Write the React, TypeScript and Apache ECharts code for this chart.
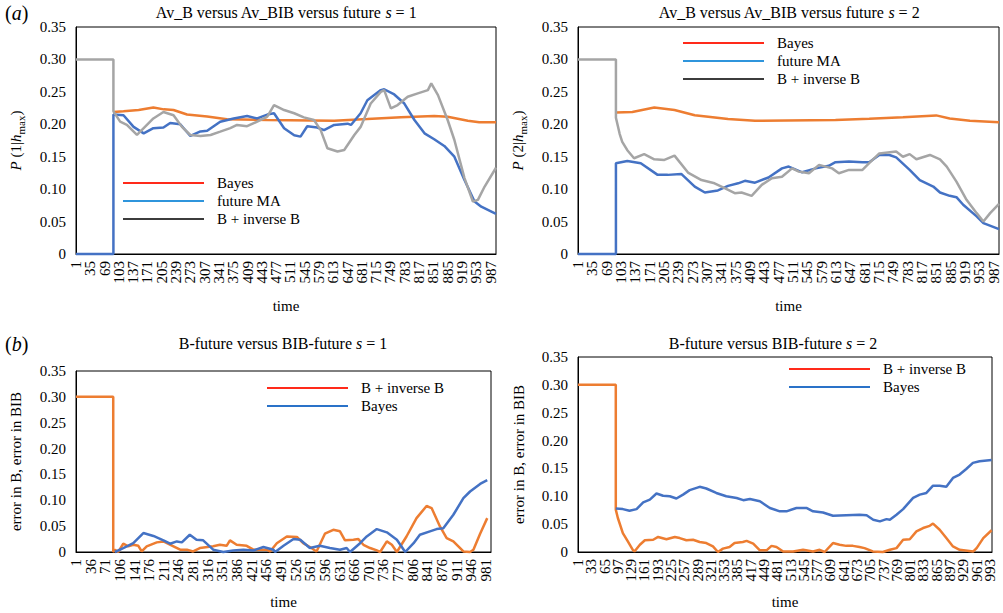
import React, { useEffect, useRef } from 'react';
import * as echarts from 'echarts';

const FONT = '"Liberation Serif", "Times New Roman", serif';
const ORANGE = '#ED7D31';
const BLUE = '#4472C4';
const GRAY = '#A5A5A5';

// time categories (tick labels) per panel
const makeTimes = (n: number) => Array.from({ length: n }, (_, i) => String(i + 1));
const A_TIMES = makeTimes(1000);
const B1_TIMES = makeTimes(993);
const B2_TIMES = makeTimes(998);
const A_LABEL_STEP = 34;
const B1_LABEL_STEP = 35;
const B2_LABEL_STEP = 32;
const Y_TICKS = [0, 0.05, 0.1, 0.15, 0.2, 0.25, 0.3, 0.35];

// panel (a), s = 1 : [time, P]
const A1_BAYES = [[90,0.219],[114,0.220],[150,0.222],[185,0.226],[210,0.223],[233,0.222],[265,0.215],[313,0.212],[360,0.2076],[456,0.2066],[615,0.2055],[694,0.208],[774,0.2107],[853,0.2127],[885,0.2117],[933,0.2055],[960,0.203],[1000,0.203]];
const A1_FUTURE = [[1,0],[90,0],[90,0.215],[114,0.214],[138,0.196],[162,0.186],[185,0.194],[209,0.195],[225,0.202],[249,0.2],[273,0.182],[297,0.189],[313,0.19],[344,0.204],[376,0.209],[408,0.2127],[432,0.209],[456,0.215],[472,0.217],[496,0.194],[520,0.183],[535,0.181],[551,0.197],[575,0.195],[591,0.191],[615,0.199],[647,0.201],[655,0.199],[678,0.217],[694,0.237],[726,0.2527],[734,0.254],[758,0.246],[782,0.232],[806,0.2066],[830,0.186],[853,0.177],[877,0.1666],[901,0.150],[925,0.114],[949,0.081],[965,0.073],[1000,0.062]];
const A1_BIB = [[1,0.30],[90,0.30],[90,0.22],[106,0.204],[122,0.199],[146,0.1835],[162,0.194],[185,0.209],[209,0.219],[233,0.214],[253,0.196],[273,0.1835],[297,0.182],[321,0.1835],[344,0.1886],[368,0.194],[384,0.199],[408,0.197],[432,0.204],[456,0.2117],[472,0.2296],[496,0.222],[520,0.217],[543,0.2107],[567,0.2066],[583,0.191],[599,0.163],[623,0.158],[639,0.1604],[663,0.1835],[678,0.196],[702,0.232],[726,0.250],[734,0.2527],[750,0.2245],[766,0.2296],[790,0.2424],[814,0.2476],[838,0.2527],[846,0.263],[862,0.245],[885,0.2066],[901,0.1758],[925,0.117],[945,0.081],[957,0.0835],[973,0.104],[1000,0.133]];

// panel (a), s = 2
const A2_BAYES = [[91,0.218],[130,0.219],[182,0.226],[230,0.222],[278,0.214],[310,0.2117],[357,0.208],[421,0.2055],[612,0.2066],[692,0.2086],[772,0.2107],[851,0.2137],[883,0.209],[931,0.2055],[1000,0.203]];
const A2_FUTURE = [[1,0],[91,0],[91,0.140],[118,0.1435],[150,0.14],[190,0.122],[214,0.122],[246,0.1235],[278,0.104],[302,0.0948],[333,0.098],[357,0.105],[381,0.109],[397,0.1128],[421,0.110],[453,0.118],[485,0.132],[501,0.1348],[533,0.126],[565,0.132],[596,0.136],[612,0.1415],[644,0.1425],[676,0.1415],[692,0.1415],[716,0.1527],[740,0.1527],[756,0.149],[788,0.1297],[812,0.114],[844,0.104],[860,0.0948],[883,0.0897],[899,0.0876],[915,0.0759],[947,0.058],[963,0.0477],[1000,0.0384]];
const A2_BIB = [[1,0.30],[91,0.30],[91,0.21],[100,0.185],[106,0.173],[118,0.160],[134,0.1476],[158,0.154],[182,0.146],[206,0.145],[230,0.1517],[262,0.1256],[294,0.114],[325,0.109],[349,0.1015],[373,0.0938],[389,0.0948],[413,0.0897],[437,0.1066],[461,0.1169],[485,0.119],[509,0.132],[525,0.127],[549,0.1245],[573,0.1374],[604,0.132],[620,0.1245],[644,0.1297],[676,0.1297],[692,0.140],[716,0.155],[756,0.158],[772,0.150],[788,0.154],[804,0.146],[836,0.1527],[860,0.146],[876,0.1348],[899,0.1117],[923,0.0835],[947,0.063],[963,0.050],[979,0.063],[1000,0.0774]];

// panel (b), s = 1 : [time, error]
const B1_BIB = [[1,0.30],[90,0.30],[90,0],[94,0.0045],[102,0],[114,0.016],[126,0.011],[138,0.014],[150,0.012],[158,0.001],[170,0.011],[194,0.0186],[210,0.0205],[234,0.011],[250,0.0045],[266,0.0045],[281,0.001],[297,0.0077],[329,0.011],[345,0.014],[361,0.012],[369,0.0225],[385,0.014],[409,0.012],[425,0.0045],[457,0.0045],[465,0.001],[481,0.017],[505,0.030],[529,0.029],[544,0.017],[560,0.0096],[576,0.001],[596,0.0353],[616,0.043],[632,0.040],[644,0.0225],[664,0.0238],[676,0.025],[688,0.014],[704,0.0077],[720,0.003],[728,0],[744,0.0205],[756,0.014],[768,0],[791,0.030],[815,0.0655],[839,0.089],[851,0.085],[871,0.0495],[887,0.027],[903,0.0205],[927,0.001],[943,0],[951,0.0045],[967,0.0353],[984,0.0655]];
const B1_BAYES = [[94,0],[114,0.0077],[138,0.017],[162,0.0366],[186,0.031],[210,0.0225],[226,0.016],[242,0.0205],[254,0.0186],[273,0.0334],[289,0.0238],[305,0.0225],[329,0.0045],[353,0],[377,0.003],[401,0.0045],[425,0.003],[449,0.0096],[473,0.0045],[477,0],[497,0.012],[521,0.025],[537,0.0238],[560,0.0077],[584,0.012],[608,0.0077],[632,0.0045],[648,0.0077],[656,0],[680,0.017],[696,0.030],[720,0.0443],[744,0.038],[768,0.0238],[788,0],[808,0.017],[823,0.0334],[847,0.040],[863,0.0443],[879,0.046],[903,0.072],[927,0.104],[943,0.117],[967,0.1317],[984,0.139]];

// panel (b), s = 2
const B2_BIB = [[1,0.30],[92,0.30],[92,0.076],[97,0.061],[109,0.034],[121,0.019],[133,0.004],[137,0.001],[150,0.013],[162,0.021],[182,0.022],[194,0.027],[214,0.023],[234,0.027],[246,0.025],[262,0.021],[278,0.022],[294,0.018],[310,0.016],[326,0.010],[338,0],[350,0.006],[366,0.009],[378,0.016],[398,0.018],[407,0.020],[423,0.015],[439,0.003],[455,0.003],[467,0.011],[479,0.009],[495,0.001],[519,0.001],[543,0.004],[567,0.001],[583,0.004],[595,0],[615,0.016],[631,0.013],[647,0.011],[663,0.011],[679,0.009],[691,0.007],[711,0.001],[735,0],[752,0.004],[768,0.007],[784,0.022],[800,0.023],[816,0.037],[832,0.043],[848,0.047],[856,0.051],[872,0.040],[888,0.025],[904,0.010],[920,0.004],[953,0.001],[961,0.007],[977,0.025],[997,0.039]];
const B2_BAYES = [[92,0.078],[109,0.077],[125,0.074],[142,0.077],[158,0.089],[174,0.094],[190,0.105],[206,0.101],[222,0.100],[238,0.096],[254,0.103],[270,0.111],[294,0.117],[310,0.114],[334,0.106],[358,0.100],[383,0.097],[399,0.093],[415,0.095],[439,0.091],[463,0.079],[487,0.073],[503,0.073],[527,0.079],[551,0.079],[567,0.073],[591,0.071],[615,0.065],[647,0.066],[679,0.067],[696,0.066],[712,0.058],[728,0.055],[744,0.059],[752,0.058],[768,0.067],[784,0.077],[808,0.097],[824,0.103],[840,0.106],[856,0.119],[872,0.119],[888,0.117],[904,0.133],[920,0.139],[936,0.149],[952,0.160],[968,0.163],[997,0.165]];

const toData = (pts: number[][]) => pts.map(([t, v]) => [String(t), v]);

const GRIDS = [
  { left: 76, top: 27, width: 420, height: 227 },
  { left: 578, top: 27, width: 421, height: 227 },
  { left: 76, top: 371, width: 415, height: 181 },
  { left: 578, top: 357, width: 414, height: 195 },
];

function buildOption() {
  const times = [A_TIMES, A_TIMES, B1_TIMES, B2_TIMES];
  const steps = [A_LABEL_STEP, A_LABEL_STEP, B1_LABEL_STEP, B2_LABEL_STEP];
  const yNames = [
    '{i|P} (1|{i|h}{sub|max})',
    '{i|P} (2|{i|h}{sub|max})',
    'error in B, error in BIB',
    'error in B, error in BIB',
  ];
  const nameGapsX = [44, 44, 42, 42];
  const nameGapsY = [50, 50, 50, 49];

  const grid = GRIDS.map((g) => ({ ...g, show: true, borderColor: '#000', borderWidth: 1, backgroundColor: 'transparent' }));

  const xAxis = times.map((cats, i) => ({
    type: 'category',
    gridIndex: i,
    data: cats,
    boundaryGap: false,
    name: 'time',
    nameLocation: 'middle',
    nameGap: nameGapsX[i],
    nameTextStyle: { fontFamily: FONT, fontSize: 15, color: '#000' },
    axisLine: { show: true, lineStyle: { color: '#000', width: 1 } },
    axisTick: { show: false },
    axisLabel: {
      interval: 0,
      formatter: (value: string, index: number) => (index % steps[i] === 0 ? value : ''),
      rotate: 90,
      fontFamily: FONT,
      fontSize: 15,
      color: '#000',
      margin: 7,
    },
    splitLine: { show: false },
  }));

  const yAxis = times.map((_, i) => ({
    type: 'value',
    gridIndex: i,
    min: Y_TICKS[0],
    max: Y_TICKS[Y_TICKS.length - 1],
    interval: 0.05,
    name: yNames[i],
    nameLocation: 'middle',
    nameRotate: 90,
    nameGap: nameGapsY[i],
    nameTextStyle: {
      fontFamily: FONT,
      fontSize: 15,
      color: '#000',
      lineHeight: 20,
      rich: {
        i: { fontFamily: FONT, fontSize: 15, fontStyle: 'italic', color: '#000', lineHeight: 20 },
        sub: { fontFamily: FONT, fontSize: 11, color: '#000', lineHeight: 6, verticalAlign: 'bottom' },
      },
    },
    axisLine: { show: true, lineStyle: { color: '#000', width: 1 } },
    axisTick: { show: false },
    splitLine: { show: false },
    axisLabel: {
      fontFamily: FONT,
      fontSize: 15,
      color: '#000',
      margin: 10,
      formatter: (v: number) => (v === 0 ? '0' : v.toFixed(2)),
    },
  }));

  const line = (name: string, data: number[][], color: string, idx: number) => ({
    type: 'line',
    name,
    xAxisIndex: idx,
    yAxisIndex: idx,
    data: toData(data),
    symbol: 'none',
    showSymbol: false,
    clip: false,
    lineStyle: { color, width: 2.5 },
    itemStyle: { color },
  });

  const series = [
    line('Bayes', A1_BAYES, ORANGE, 0),
    line('future MA', A1_FUTURE, BLUE, 0),
    line('B + inverse B', A1_BIB, GRAY, 0),
    line('Bayes', A2_BAYES, ORANGE, 1),
    line('future MA', A2_FUTURE, BLUE, 1),
    line('B + inverse B', A2_BIB, GRAY, 1),
    line('B + inverse B', B1_BIB, ORANGE, 2),
    line('Bayes', B1_BAYES, BLUE, 2),
    line('B + inverse B', B2_BIB, ORANGE, 3),
    line('Bayes', B2_BAYES, BLUE, 3),
  ];

  const legendBase = {
    orient: 'vertical',
    icon: 'rect',
    itemWidth: 81,
    itemHeight: 2,
    itemGap: 2,
    padding: 0,
    selectedMode: false,
    textStyle: { fontFamily: FONT, fontSize: 15, color: '#000', lineHeight: 16, padding: [0, 0, 0, 8] },
  };
  const legend = [
    {
      ...legendBase,
      left: 123,
      top: 175,
      data: [
        { name: 'Bayes', itemStyle: { color: '#FF2A1A' } },
        { name: 'future MA', itemStyle: { color: '#2F95DC' } },
        { name: 'B + inverse B', itemStyle: { color: '#3C3C3C' } },
      ],
    },
    {
      ...legendBase,
      left: 683,
      top: 35,
      data: [
        { name: 'Bayes', itemStyle: { color: '#FF2A1A' } },
        { name: 'future MA', itemStyle: { color: '#2F95DC' } },
        { name: 'B + inverse B', itemStyle: { color: '#3C3C3C' } },
      ],
    },
    {
      ...legendBase,
      left: 267,
      top: 380,
      data: [
        { name: 'B + inverse B', itemStyle: { color: '#FF2A1A' } },
        { name: 'Bayes', itemStyle: { color: '#2A72C8' } },
      ],
    },
    {
      ...legendBase,
      left: 789,
      top: 361,
      data: [
        { name: 'B + inverse B', itemStyle: { color: '#FF2A1A' } },
        { name: 'Bayes', itemStyle: { color: '#2A72C8' } },
      ],
    },
  ];

  const TITLE_SIZE = 16;
  const richTitle = {
    i: { fontFamily: FONT, fontSize: TITLE_SIZE, fontStyle: 'italic', fill: '#000' },
  };
  const titleText = (x: number, y: number, text: string) => ({
    type: 'text',
    x,
    y,
    style: {
      text,
      fontFamily: FONT,
      fontSize: TITLE_SIZE,
      fill: '#000',
      align: 'center',
      verticalAlign: 'middle',
      rich: richTitle,
    },
  });
  const panelLabel = (x: number, y: number, text: string) => ({
    type: 'text',
    x,
    y,
    style: {
      text,
      fontFamily: FONT,
      fontSize: 20,
      fill: '#000',
      align: 'left',
      verticalAlign: 'middle',
      rich: { i: { fontFamily: FONT, fontSize: 20, fontStyle: 'italic', fill: '#000' } },
    },
  });

  const graphic = [
    titleText(286, 12, 'Av_B versus Av_BIB versus future {i|s} = 1'),
    titleText(789, 12, 'Av_B versus Av_BIB versus future {i|s} = 2'),
    titleText(283, 343, 'B-future versus BIB-future {i|s} = 1'),
    titleText(773, 343, 'B-future versus BIB-future {i|s} = 2'),
    panelLabel(5, 13, '({i|a})'),
    panelLabel(5, 344, '({i|b})'),
  ];

  return {
    animation: false,
    backgroundColor: '#fff',
    grid,
    xAxis,
    yAxis,
    series,
    legend,
    graphic,
  };
}

export default function App() {
  const ref = useRef<HTMLDivElement>(null);
  useEffect(() => {
    if (!ref.current) return;
    const chart = echarts.init(ref.current, undefined, { renderer: 'svg' });
    chart.setOption(buildOption() as any);
    return () => chart.dispose();
  }, []);
  return (
    <div
      ref={ref}
      style={{ position: 'absolute', left: 0, top: 0, width: 1003, height: 613, background: '#fff' }}
    />
  );
}
